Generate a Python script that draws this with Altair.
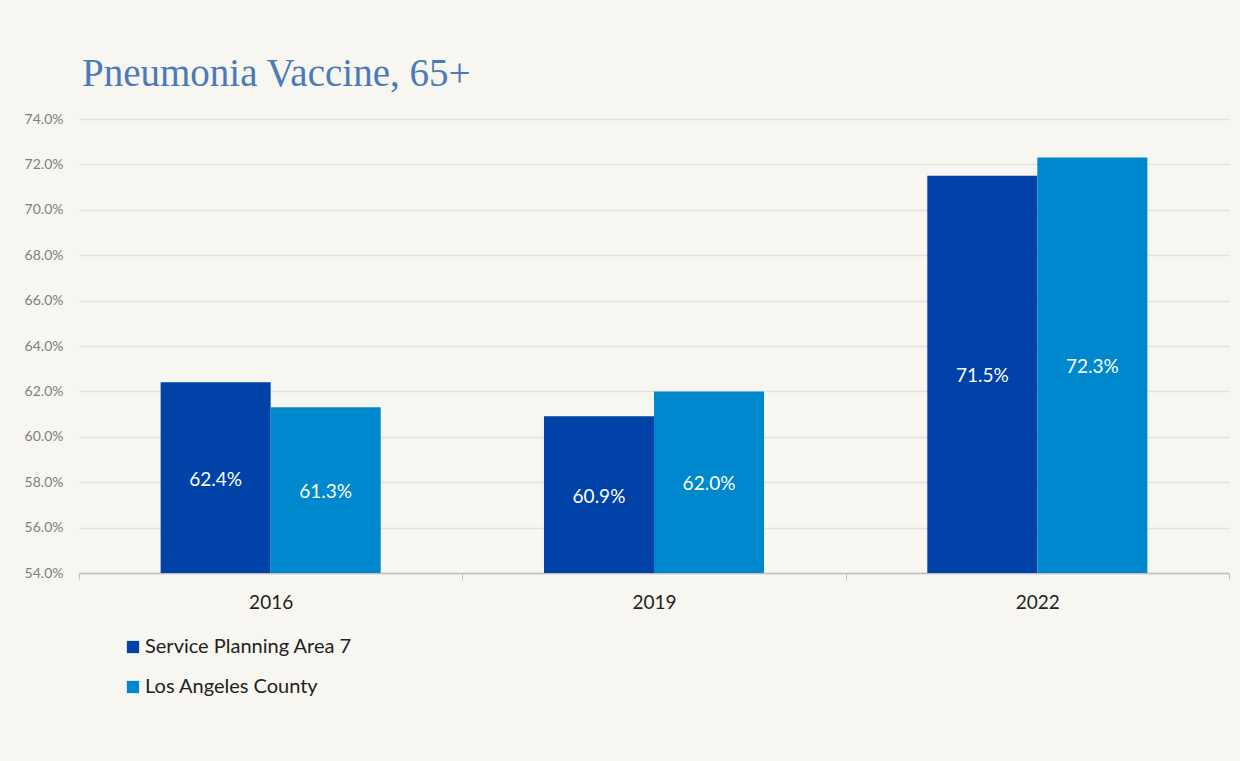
import altair as alt
import pandas as pd

years = ["2016", "2019", "2022"]
series = ["Service Planning Area 7", "Los Angeles County"]
spa7 = [62.4, 60.9, 71.5]
lac = [61.3, 62.0, 72.3]
colors = ["#0042a8", "#0088ce"]

rows = []
for i, y in enumerate(years):
    rows.append({"year": y, "series": series[0], "value": spa7[i], "order": 0})
    rows.append({"year": y, "series": series[1], "value": lac[i], "order": 1})
df = pd.DataFrame(rows)

base_font = "Lato"

x = alt.X("year:N", title=None,
          scale=alt.Scale(paddingInner=0, paddingOuter=0),
          axis=alt.Axis(labelAngle=0, labelFontSize=19, labelColor="#222222",
                        labelFont=base_font, tickBand="extent", tickSize=6,
                        tickColor="#bfbfbf", domainColor="#bfbfbf", domainWidth=1.5,
                        labelPadding=14, grid=False))
xoff_scale = alt.Scale(paddingInner=0, paddingOuter=0.742)
xoff = alt.XOffset("series:N", sort=series, scale=xoff_scale)
y = alt.Y("value:Q", title=None,
          scale=alt.Scale(domain=[54, 74], zero=False, nice=False),
          axis=alt.Axis(values=list(range(54, 75, 2)),
                        labelExpr="format(datum.value, '.1f') + '%'",
                        labelFontSize=14, labelColor="#7f7f7f", labelFont=base_font,
                        labelPadding=16, ticks=False, domain=False,
                        grid=True, gridColor="#e3e1dd", gridWidth=1.5))

bars = alt.Chart(df).mark_bar().encode(
    x=x, xOffset=xoff, y=y, y2=alt.datum(54),
    color=alt.Color("series:N", sort=series,
                    scale=alt.Scale(domain=series, range=colors),
                    legend=alt.Legend(title=None, orient="none", legendX=44, legendY=518,
                                      symbolType="square", symbolSize=150,
                                      symbolStrokeWidth=0, labelFontSize=20,
                                      labelColor="#222222", labelFont=base_font,
                                      labelLimit=0, rowPadding=20, labelOffset=2)),
)

labels = alt.Chart(df).transform_calculate(
    mid="(datum.value + 54) / 2",
    lab="format(datum.value, '.1f') + '%'"
).mark_text(color="white", fontSize=19, font=base_font, baseline="middle", dy=2).encode(
    x=alt.X("year:N"), xOffset=alt.XOffset("series:N", sort=series),
    y=alt.Y("mid:Q"), text="lab:N",
)

chart = alt.layer(bars, labels).properties(
    width=1150, height=454,
    title=alt.Title("Pneumonia Vaccine, 65+", anchor="start", frame="group",
                    font="Liberation Serif", fontSize=39, fontWeight="normal",
                    color="#4a7ab8", offset=18, dx=3),
    background="#f7f6f0",
    padding={"left": 79, "top": 119, "right": 11, "bottom": 188},
    autosize=alt.AutoSizeParams(type="none"),
).configure_view(stroke=None)

chart.save("out.html", embed_options={"renderer": "svg", "actions": False})
